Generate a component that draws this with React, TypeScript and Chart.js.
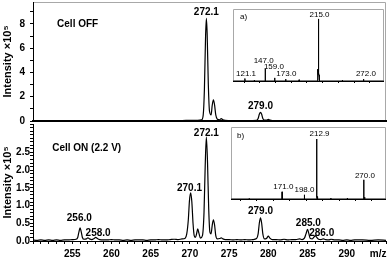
import React, { useEffect, useRef } from 'react';
import { Chart, registerables } from 'chart.js';

Chart.register(...registerables);

const FONT = "'Liberation Sans', Arial, Helvetica, sans-serif";

// ---- Main spectrum, Cell OFF (intensity x10^5) ----
const offMz = [250, 251, 252, 253, 254, 255, 256, 257, 258, 259, 260, 261, 262, 263, 264, 265, 266, 267, 268, 269, 270, 270.5, 271, 271.5, 271.7, 271.85, 272.0, 272.1, 272.2, 272.35, 272.5, 272.7, 272.85, 273.0, 273.15, 273.3, 273.5, 273.8, 274.0, 274.2, 274.5, 275, 276, 277, 278, 278.5, 278.7, 278.85, 279.0, 279.15, 279.3, 279.5, 279.8, 280.0, 280.2, 280.5, 281, 282, 283, 284, 285, 286, 287, 288, 289, 290, 291, 292, 293, 294, 295];
const offInt = [0.03, 0.04, 0.03, 0.03, 0.04, 0.03, 0.04, 0.03, 0.04, 0.03, 0.03, 0.04, 0.03, 0.03, 0.04, 0.03, 0.04, 0.03, 0.04, 0.04, 0.05, 0.05, 0.06, 0.1, 0.5, 2.6, 7.0, 8.45, 7.2, 3.0, 0.8, 0.5, 1.3, 1.75, 1.3, 0.5, 0.15, 0.1, 0.2, 0.1, 0.05, 0.04, 0.03, 0.04, 0.04, 0.05, 0.2, 0.55, 0.72, 0.55, 0.2, 0.07, 0.08, 0.14, 0.08, 0.04, 0.04, 0.03, 0.04, 0.03, 0.04, 0.03, 0.04, 0.03, 0.04, 0.03, 0.03, 0.04, 0.03, 0.03, 0.03];

// ---- Main spectrum, Cell ON 2.2 V (intensity x10^5) ----
const onMz = [250.0, 250.5, 251.0, 251.5, 252.0, 252.5, 253.0, 253.5, 254.0, 254.5, 255.0, 255.5, 255.7, 255.85, 256.0, 256.15, 256.3, 256.5, 256.8, 257.0, 257.2, 257.5, 257.8, 258.0, 258.2, 258.5, 259.0, 259.5, 260.0, 260.5, 261.0, 261.5, 262.0, 262.5, 263.0, 263.5, 264.0, 264.5, 265.0, 265.5, 266.0, 266.5, 267.0, 267.5, 268.0, 268.5, 269.0, 269.4, 269.6, 269.8, 269.95, 270.1, 270.25, 270.4, 270.55, 270.7, 270.85, 271.0, 271.15, 271.35, 271.6, 271.8, 271.95, 272.1, 272.25, 272.4, 272.55, 272.7, 272.85, 273.0, 273.15, 273.3, 273.5, 273.8, 274.0, 274.2, 274.5, 275.0, 275.5, 276.0, 276.5, 277.0, 277.5, 278.0, 278.5, 278.7, 278.85, 279.0, 279.15, 279.3, 279.5, 279.8, 280.0, 280.2, 280.5, 281.0, 281.5, 282.0, 282.5, 283.0, 283.5, 284.0, 284.3, 284.6, 284.8, 285.0, 285.15, 285.35, 285.6, 285.85, 286.0, 286.15, 286.4, 286.7, 287.0, 287.3, 287.7, 288.0, 288.5, 289.0, 289.5, 290.0, 290.5, 291.0, 291.5, 292.0, 293.0, 294.0, 295.0];
const onInt = [0.03, 0.02, 0.03, 0.02, 0.03, 0.02, 0.03, 0.02, 0.03, 0.03, 0.04, 0.05, 0.1, 0.25, 0.37, 0.26, 0.1, 0.05, 0.06, 0.09, 0.06, 0.04, 0.07, 0.1, 0.07, 0.04, 0.03, 0.03, 0.04, 0.03, 0.03, 0.02, 0.03, 0.02, 0.03, 0.03, 0.03, 0.02, 0.03, 0.03, 0.04, 0.03, 0.03, 0.04, 0.05, 0.04, 0.06, 0.08, 0.2, 0.6, 1.15, 1.36, 1.1, 0.5, 0.15, 0.1, 0.2, 0.34, 0.22, 0.08, 0.15, 0.8, 2.1, 2.93, 2.2, 0.9, 0.25, 0.2, 0.45, 0.6, 0.45, 0.15, 0.06, 0.07, 0.09, 0.06, 0.04, 0.04, 0.03, 0.04, 0.03, 0.04, 0.03, 0.04, 0.07, 0.2, 0.5, 0.65, 0.5, 0.2, 0.06, 0.08, 0.14, 0.08, 0.04, 0.04, 0.03, 0.05, 0.03, 0.04, 0.04, 0.06, 0.04, 0.08, 0.2, 0.33, 0.22, 0.07, 0.06, 0.12, 0.15, 0.11, 0.05, 0.04, 0.06, 0.04, 0.03, 0.05, 0.03, 0.03, 0.02, 0.03, 0.02, 0.03, 0.03, 0.03, 0.02, 0.03, 0.02];

// ---- Inset a) (relative intensity) ----
const aMz = [106, 120.9, 121.1, 121.3, 132.9, 133.1, 133.3, 146.8, 147.0, 147.2, 158.8, 159.0, 159.2, 172.8, 173.0, 173.2, 189.9, 190.1, 190.3, 213.0, 213.2, 213.4, 213.6, 213.8, 214.0, 214.2, 214.4, 214.6, 214.8, 215.0, 215.2, 215.4, 215.6, 215.8, 216.0, 244.9, 245.1, 245.3, 271.8, 272.0, 272.2, 298];
const aInt = [0, 0, 0.04, 0, 0, 0.015, 0, 0, 0.2, 0, 0, 0.05, 0, 0, 0.03, 0, 0, 0.02, 0, 0, 0.15, 0.05, 0.18, 0.08, 0.19, 0.1, 0.17, 0.12, 0.2, 1.0, 0.14, 0.06, 0.1, 0.03, 0, 0, 0.015, 0, 0, 0.03, 0, 0];

// ---- Inset b) (relative intensity) ----
const bMz = [109, 130.9, 131.1, 131.3, 170.8, 171.0, 171.2, 197.8, 198.0, 198.2, 212.5, 212.7, 212.9, 213.1, 213.3, 213.6, 214.0, 229.9, 230.1, 230.3, 249.9, 250.1, 250.3, 269.8, 270.0, 270.2, 270.9, 271.1, 271.3, 297];
const bInt = [0, 0, 0.01, 0, 0, 0.12, 0, 0, 0.07, 0, 0, 0.03, 1.0, 0.06, 0.03, 0.04, 0, 0, 0.015, 0, 0, 0.015, 0, 0, 0.32, 0, 0, 0.03, 0, 0];

// ---- Tick labels ----
const xTickLabels = [255, 260, 265, 270, 275, 280, 285, 290];
const topYTickLabels = [0, 2, 4, 6, 8];
const botYTickLabels = [0, 0.5, 1.0, 1.5, 2.0, 2.5];
const xUnit = 'm/z';
const yTitle = 'Intensity \u00d710\u2075';

// ---- Text annotations: [text, m/z, intensity, align] ----
const offLabels: [string, number, number, string?][] = [
  ['Cell OFF', 253.07, 7.93, 'left'],
  ['272.1', 272.1, 8.93],
  ['279.0', 279.0, 1.2],
];
const onLabels: [string, number, number, string?][] = [
  ['Cell ON (2.2 V)', 252.45, 2.62, 'left'],
  ['256.0', 255.9, 0.65],
  ['258.0', 258.3, 0.23],
  ['270.1', 269.95, 1.49],
  ['272.1', 272.1, 3.03],
  ['279.0', 279.0, 0.85],
  ['285.0', 285.1, 0.49],
  ['286.0', 286.8, 0.23],
];
const aLabels: [string, number, number, string?][] = [
  ['a)', 115, 1.03, 'left'],
  ['215.0', 216, 1.06],
  ['147.0', 145, 0.32],
  ['159.0', 158, 0.23],
  ['121.1', 122.6, 0.11],
  ['173.0', 173.8, 0.11],
  ['272.0', 275, 0.11],
];
const bLabels: [string, number, number, string?][] = [
  ['b)', 116.3, 1.05, 'left'],
  ['212.9', 216.4, 1.08],
  ['270.0', 271.4, 0.38],
  ['171.0', 172.5, 0.2],
  ['198.0', 198.1, 0.15],
];

const pts = (xs: number[], ys: number[]) =>
  xs.slice(0, Math.min(xs.length, ys.length)).map((x, i) => ({ x, y: ys[i] }));

const near = (v: number, list: number[]) => list.some((l) => Math.abs(l - v) < 1e-6);

function textPlugin(items: [string, number, number, string?][], font: string) {
  return {
    id: 'peakText',
    afterDatasetsDraw(chart: any) {
      const { ctx, scales } = chart;
      const xs = scales.x;
      const ys = scales.y;
      ctx.save();
      ctx.fillStyle = '#000';
      ctx.textBaseline = 'middle';
      for (const [text, x, y, align] of items) {
        ctx.font = font;
        ctx.textAlign = (align as CanvasTextAlign) || 'center';
        ctx.fillText(text, xs.getPixelForValue(x), ys.getPixelForValue(y));
      }
      ctx.restore();
    },
  };
}

function framePlugin(sides: string[], color: string) {
  return {
    id: 'frame',
    beforeDraw(chart: any) {
      const { ctx, chartArea: a } = chart;
      ctx.save();
      ctx.strokeStyle = color;
      ctx.lineWidth = 1;
      ctx.beginPath();
      const l = Math.round(a.left) + 0.5;
      const r = Math.round(a.right) - 0.5;
      const t = Math.round(a.top) + 0.5;
      const b = Math.round(a.bottom) - 0.5;
      if (sides.includes('top')) { ctx.moveTo(l, t); ctx.lineTo(r, t); }
      if (sides.includes('right')) { ctx.moveTo(r, t); ctx.lineTo(r, b); }
      if (sides.includes('left')) { ctx.moveTo(l, t); ctx.lineTo(l, b); }
      if (sides.includes('bottom')) { ctx.moveTo(l, b); ctx.lineTo(r, b); }
      ctx.stroke();
      ctx.restore();
    },
  };
}

const tickFont = { family: FONT, size: 10, weight: 'bold' as const };

function mainConfig(opts: {
  data: { x: number; y: number }[];
  yMax: number;
  yStep: number;
  yLabels: number[];
  yFmt: (v: number) => string;
  yPad: number;
  showX: boolean;
  labels: [string, number, number, string?][];
  frame: string[];
}) {
  return {
    type: 'line' as const,
    data: {
      datasets: [
        {
          data: opts.data,
          borderColor: '#000',
          borderWidth: 1.2,
          pointRadius: 0,
          cubicInterpolationMode: 'monotone' as const,
          fill: false,
        },
      ],
    },
    options: {
      animation: false as const,
      responsive: false,
      events: [] as any[],
      layout: { padding: { left: 0, right: 6, top: 2, bottom: 0 } },
      plugins: { legend: { display: false }, tooltip: { enabled: false } },
      scales: {
        x: {
          type: 'linear' as const,
          min: 250,
          max: 295,
          ticks: opts.showX
            ? {
                stepSize: 1,
                autoSkip: false,
                maxRotation: 0,
                includeBounds: false,
                padding: 4,
                color: '#000',
                font: tickFont,
                callback: (v: any) => (near(v, xTickLabels) ? String(v) : near(v, [294]) ? xUnit : ''),
              }
            : { display: false },
          grid: opts.showX
            ? { display: true, drawOnChartArea: false, drawTicks: true, tickLength: 3, color: '#000' }
            : { display: false },
          border: { display: true, color: '#000', width: opts.showX ? 1 : 2 },
          afterFit: (s: any) => {
            s.height = opts.showX ? 17 : 3;
            s.paddingLeft = 0;
            s.paddingRight = 0;
          },
        },
        y: {
          min: 0,
          max: opts.yMax,
          ticks: {
            stepSize: opts.yStep,
            autoSkip: false,
            includeBounds: false,
            padding: opts.yPad,
            color: '#000',
            font: tickFont,
            callback: (v: any) => (near(v, opts.yLabels) ? opts.yFmt(v) : ''),
          },
          grid: { display: true, drawOnChartArea: false, drawTicks: true, tickLength: 3, color: '#000' },
          border: { display: true, color: '#000', width: 1 },
          title: {
            display: true,
            text: yTitle,
            color: '#000',
            font: { family: FONT, size: 11, weight: 'bold' as const },
            padding: { top: 1, bottom: 0 },
          },
          afterFit: (s: any) => {
            s.width = 33;
            s.paddingTop = 0;
            s.paddingBottom = 0;
          },
        },
      },
    },
    plugins: [framePlugin(opts.frame, '#a8a8a8'), textPlugin(opts.labels, `bold 10px ${FONT}`)],
  };
}

function insetConfig(data: { x: number; y: number }[], xMin: number, xMax: number, yMax: number, labels: [string, number, number, string?][]) {
  return {
    type: 'line' as const,
    data: {
      datasets: [
        {
          data,
          borderColor: '#000',
          borderWidth: 1,
          pointRadius: 0,
          tension: 0,
          fill: false,
        },
      ],
    },
    options: {
      animation: false as const,
      responsive: false,
      events: [] as any[],
      layout: { padding: 0 },
      plugins: { legend: { display: false }, tooltip: { enabled: false } },
      scales: {
        x: {
          type: 'linear' as const,
          min: xMin,
          max: xMax,
          ticks: { display: false, stepSize: 20, autoSkip: false, includeBounds: false },
          afterBuildTicks: (s: any) => {
            s.ticks = s.ticks.filter((t: any) => t.value > s.min && t.value < s.max);
          },
          grid: { display: true, drawOnChartArea: false, drawTicks: true, tickLength: 2, color: '#000' },
          border: { display: true, color: '#000', width: 1 },
          afterFit: (s: any) => {
            s.height = 3;
            s.paddingLeft = 0;
            s.paddingRight = 0;
          },
        },
        y: { display: false, min: 0, max: yMax },
      },
    },
    plugins: [framePlugin(['top', 'right', 'left'], '#a8a8a8'), textPlugin(labels, `8px ${FONT}`)],
  };
}

export default function App() {
  const topRef = useRef<HTMLCanvasElement>(null);
  const botRef = useRef<HTMLCanvasElement>(null);
  const aRef = useRef<HTMLCanvasElement>(null);
  const bRef = useRef<HTMLCanvasElement>(null);

  useEffect(() => {
    Chart.defaults.font.family = FONT;
    const charts: Chart[] = [];
    charts.push(
      new Chart(
        topRef.current!,
        mainConfig({
          data: pts(offMz, offInt),
          yMax: 9.8,
          yStep: 1,
          yLabels: topYTickLabels,
          yFmt: (v) => String(Math.round(v)),
          yPad: 5,
          showX: false,
          labels: offLabels,
          frame: ['top', 'right'],
        }) as any
      )
    );
    charts.push(
      new Chart(
        botRef.current!,
        mainConfig({
          data: pts(onMz, onInt),
          yMax: 3.3,
          yStep: 0.1,
          yLabels: botYTickLabels,
          yFmt: (v) => Number(v).toFixed(1),
          yPad: 0,
          showX: true,
          labels: onLabels,
          frame: [],
        }) as any
      )
    );
    charts.push(new Chart(aRef.current!, insetConfig(pts(aMz, aInt), 106, 298, 1.16, aLabels) as any));
    charts.push(new Chart(bRef.current!, insetConfig(pts(bMz, bInt), 109, 297, 1.2, bLabels) as any));
    return () => charts.forEach((c) => c.destroy());
  }, []);

  return (
    <div style={{ position: 'absolute', left: 0, top: 0, width: 392, height: 258, background: '#fff', overflow: 'hidden' }}>
      <canvas ref={topRef} width={392} height={124} style={{ position: 'absolute', left: 0, top: 0 }} />
      <canvas ref={botRef} width={392} height={136} style={{ position: 'absolute', left: 0, top: 122 }} />
      <canvas ref={aRef} width={151} height={75} style={{ position: 'absolute', left: 233, top: 9, background: '#fff' }} />
      <canvas ref={bRef} width={155} height={75} style={{ position: 'absolute', left: 231, top: 127, background: '#fff' }} />
    </div>
  );
}
